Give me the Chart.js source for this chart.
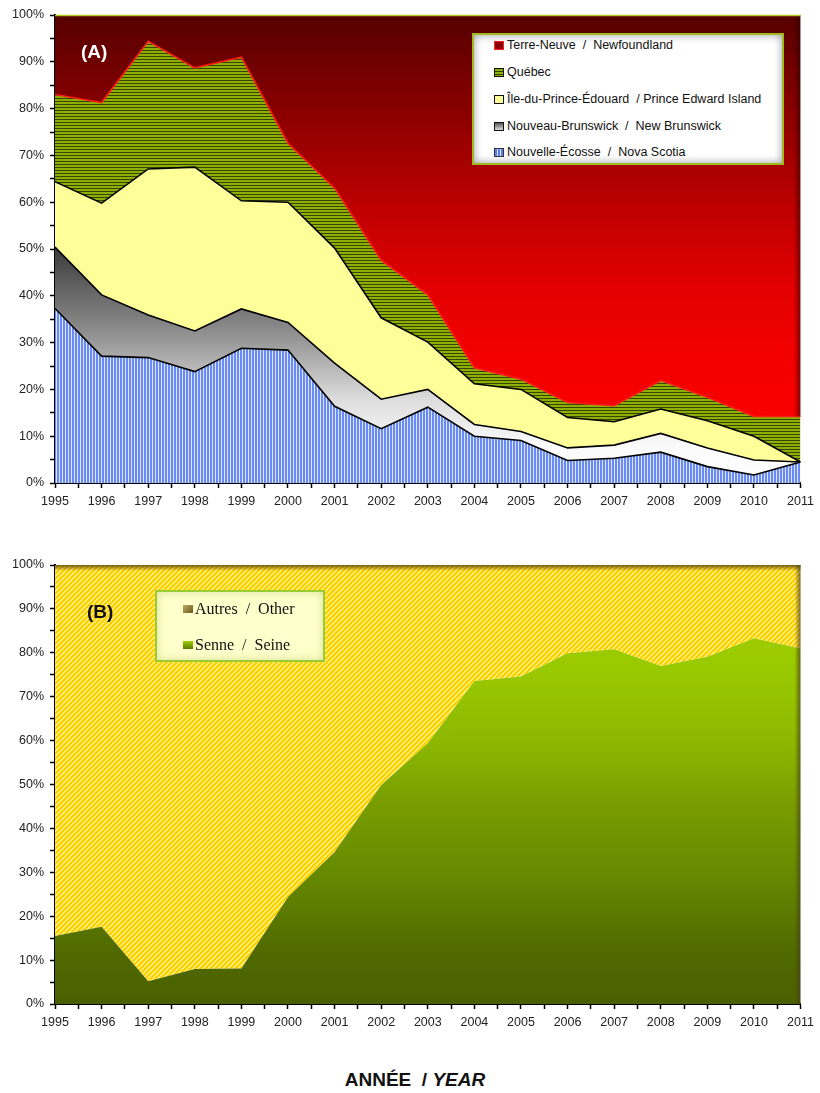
<!DOCTYPE html>
<html lang="fr">
<head>
<meta charset="UTF-8">
<title>Répartition des débarquements 1995-2011</title>
<script src="https://cdn.jsdelivr.net/npm/chart.js"></script>
<style>
  body { margin: 0; background: #fff; font-family: 'Liberation Sans', Arial, sans-serif; }
  .page { position: relative; width: 820px; height: 1093px; overflow: hidden; }
  #boxA { position: absolute; left: 0; top: 0; width: 820px; height: 510px; }
  #boxB { position: absolute; left: 0; top: 550px; width: 820px; height: 480px; }
  .tag { position: absolute; font-weight: bold; font-size: 19px; line-height: 20px; }
  #tagA { left: 81px; top: 42px; color: #fff; }
  #tagB { left: 87px; top: 602px; color: #111; }

  #legA {
    position: absolute; left: 472px; top: 33px; width: 308px; height: 128px;
    border: 2px solid #9bbb1f; background: #fff;
    box-shadow: inset 0 0 9px rgba(0,0,0,0.4);
    font-size: 12.5px; color: #111;
  }
  #legA .row { position: absolute; left: 20px; height: 14px; line-height: 14px; white-space: pre; }
  #legA .sw { display: inline-block; width: 8px; height: 7px; border: 1px solid #111; margin-right: 3px; vertical-align: -1px; }

  #legB {
    position: absolute; left: 155px; top: 590px; width: 166px; height: 68px;
    border: 2px solid #99cc33; background: #ffffcc;
    box-shadow: inset 0 0 8px rgba(140,160,40,0.35);
    font-family: 'Liberation Serif', 'Times New Roman', serif; font-size: 16px; color: #111;
  }
  #legB .row { position: absolute; left: 26px; height: 18px; line-height: 18px; white-space: pre; }
  #legB .sw { display: inline-block; width: 10px; height: 8px; margin-right: 2px; vertical-align: 1px; }

  #xtitle { position: absolute; left: 0; width: 830px; top: 1069px; text-align: center; font-weight: bold; font-size: 19px; color: #111; white-space: pre; }
</style>
</head>
<body>
<div class="page">
  <div id="boxA"><canvas id="chartA"></canvas></div>
  <div id="boxB"><canvas id="chartB"></canvas></div>

  <div class="tag" id="tagA">(A)</div>
  <div class="tag" id="tagB">(B)</div>

  <div id="legA">
    <div class="row" style="top:3px"><span class="sw" style="background:#8a0000;border-color:#ff2020"></span>Terre-Neuve  /  Newfoundland</div>
    <div class="row" style="top:30px"><span class="sw" style="background:repeating-linear-gradient(180deg,#8fb000 0 2px,#35420a 2px 3px)"></span>Québec</div>
    <div class="row" style="top:57px"><span class="sw" style="background:#ffff99"></span>Île-du-Prince-Édouard  / Prince Edward Island</div>
    <div class="row" style="top:84px"><span class="sw" style="background:linear-gradient(180deg,#555,#ddd)"></span>Nouveau-Brunswick  /  New Brunswick</div>
    <div class="row" style="top:110px"><span class="sw" style="background:repeating-linear-gradient(90deg,#5a7ff0 0 2px,#d8e2ff 2px 3px);border-color:#334"></span>Nouvelle-Écosse  /  Nova Scotia</div>
  </div>

  <div id="legB">
    <div class="row" style="top:8px"><span class="sw" style="background:linear-gradient(135deg,#c0a860,#6a5a20)"></span>Autres  /  Other</div>
    <div class="row" style="top:44px"><span class="sw" style="background:linear-gradient(180deg,#9ed000,#5c7a00)"></span>Senne  /  Seine</div>
  </div>

  <div id="xtitle">ANNÉE  / <i>YEAR</i></div>
</div>

<script>
  // ---- data ----
  const years = [1995, 1996, 1997, 1998, 1999, 2000, 2001, 2002, 2003, 2004, 2005, 2006, 2007, 2008, 2009, 2010, 2011];

  // (A) share of landings by province, %
  const novaScotia   = [37.3, 27.1, 26.8, 23.8, 28.8, 28.4, 16.4, 11.6, 16.2, 10.0, 9.1, 4.8, 5.3, 6.6, 3.5, 1.7, 4.5];
  const newBrunswick = [13.1, 13.1, 9.1, 8.7, 8.4, 5.9, 9.2, 6.3, 3.8, 2.5, 1.9, 2.7, 2.8, 4.0, 4.0, 3.2, 0];
  const princeEdward = [14.0, 19.6, 31.2, 35.0, 23.1, 25.7, 24.6, 17.4, 10.1, 8.7, 9.0, 6.5, 5.0, 5.2, 5.8, 5.1, 0];
  const quebec       = [18.6, 21.5, 27.3, 21.2, 30.7, 12.6, 12.8, 12.3, 10.1, 3.4, 2.2, 3.2, 3.4, 6.1, 5.0, 4.2, 9.7];
  const newfoundland = [17.0, 18.7, 5.6, 11.3, 9.0, 27.4, 37.0, 52.4, 59.8, 75.4, 77.8, 82.8, 83.5, 78.1, 81.7, 85.8, 85.8];

  // (B) share by gear, %
  const seine = [15.5, 17.6, 5.2, 8.0, 8.1, 24.4, 34.6, 49.9, 59.4, 73.6, 74.6, 79.9, 80.8, 77.0, 79.1, 83.3, 81.0];
  const other = [84.5, 82.4, 94.8, 92.0, 91.9, 75.6, 65.4, 50.1, 40.6, 26.4, 25.4, 20.1, 19.2, 23.0, 20.9, 16.7, 19.0];

  const pctTicks = [0, 10, 20, 30, 40, 50, 60, 70, 80, 90, 100];

  // ---- fills ----
  function makePattern(w, h, painter) {
    const c = document.createElement('canvas');
    c.width = w; c.height = h;
    const g = c.getContext('2d');
    for (let x = 0; x < w; x++) {
      for (let y = 0; y < h; y++) {
        g.fillStyle = painter(x, y);
        g.fillRect(x, y, 1, 1);
      }
    }
    return document.createElement('canvas').getContext('2d').createPattern(c, 'repeat');
  }
  const blueStripes = makePattern(3, 1, (x) => x < 2 ? '#6a8cf2' : '#dbe4ff');
  const oliveStripes = makePattern(1, 3, (x, y) => y < 2 ? '#8eae00' : '#37440a');
  const yellowDiag = makePattern(5, 5, (x, y) => ((x + y) % 5) < 2 ? '#fff07c' : '#ffd000');

  // vertical gradient using value stops on the y scale
  function scaleGradient(stops) {
    let cache = null, key = '';
    return (ctx) => {
      const chart = ctx.chart;
      const area = chart.chartArea;
      if (!area) return stops[0][1];
      const k = area.top + '|' + area.bottom;
      if (cache && key === k) return cache;
      const g = chart.ctx.createLinearGradient(0, area.top, 0, area.bottom);
      const span = area.bottom - area.top;
      stops.forEach(([v, col]) => {
        const py = chart.scales.y.getPixelForValue(v);
        g.addColorStop(Math.min(1, Math.max(0, (py - area.top) / span)), col);
      });
      cache = g; key = k;
      return g;
    };
  }

  const redFill = scaleGradient([[100, '#560000'], [80, '#880000'], [60, '#bb0000'], [42, '#e20000'], [28, '#f30000'], [0, '#ff0000']]);
  const grayFill = scaleGradient([[100, '#222'], [52, '#333'], [33, '#8a8a8a'], [18, '#dcdcdc'], [8, '#fafafa'], [0, '#fff']]);
  const greenFill = scaleGradient([[100, '#a4d400'], [75, '#98c800'], [60, '#8cb800'], [45, '#789c00'], [30, '#668a00'], [12, '#506a00'], [0, '#4a6000']]);

  const xy = (vals) => vals.map((v, i) => ({ x: years[i], y: v }));

  // inner shading along plot-area edges
  const edgeShade = {
    id: 'edgeShade',
    afterDatasetsDraw(chart, args, opts) {
      const { ctx, chartArea: a } = chart;
      ctx.save();
      if (opts.rightTo) {
        const meta = chart.getDatasetMeta(opts.rightTo);
        const pts = meta.data;
        const yEnd = pts[pts.length - 1].y;
        const g = ctx.createLinearGradient(a.right - 7, 0, a.right, 0);
        g.addColorStop(0, 'rgba(40,0,0,0)');
        g.addColorStop(1, 'rgba(40,0,0,0.55)');
        ctx.fillStyle = g;
        ctx.fillRect(a.right - 7, a.top, 7, yEnd - a.top);
      }
      if (opts.topShadow) {
        const g = ctx.createLinearGradient(0, a.top, 0, a.top + 6);
        g.addColorStop(0, 'rgba(70,50,0,0.75)');
        g.addColorStop(1, 'rgba(70,50,0,0)');
        ctx.fillStyle = g;
        ctx.fillRect(a.left, a.top, a.right - a.left, 6);
        const g2 = ctx.createLinearGradient(a.right - 6, 0, a.right, 0);
        g2.addColorStop(0, 'rgba(70,60,20,0)');
        g2.addColorStop(1, 'rgba(70,60,20,0.7)');
        ctx.fillStyle = g2;
        ctx.fillRect(a.right - 6, a.top, 6, a.bottom - a.top);
      }
      if (opts.topLine) {
        ctx.strokeStyle = opts.topLine;
        ctx.lineWidth = 1.5;
        ctx.beginPath();
        ctx.moveTo(a.left, a.top + 0.5);
        ctx.lineTo(a.right, a.top + 0.5);
        ctx.stroke();
      }
      ctx.restore();
    }
  };

  function axes(xHeight) {
    const font = { family: "'Liberation Sans', Arial, sans-serif", size: 12.5 };
    return {
      x: {
        type: 'linear', min: years[0], max: years[years.length - 1],
        afterFit: (s) => { s.height = xHeight; },
        border: { color: '#000', width: 2 },
        grid: { drawOnChartArea: false, drawTicks: true, tickLength: 5, tickColor: '#000', tickWidth: 1.5 },
        ticks: {
          stepSize: 0.5, autoSkip: false, maxRotation: 0, padding: 6, color: '#222', font,
          callback: (v) => Number.isInteger(v) ? String(v) : ''
        }
      },
      y: {
        stacked: true, min: 0, max: 100,
        afterFit: (s) => { s.width = 55; },
        border: { color: '#000', width: 2 },
        grid: { drawOnChartArea: false, drawTicks: true, tickLength: 5, tickColor: '#000', tickWidth: 1.5 },
        ticks: {
          stepSize: 5, maxTicksLimit: 100, autoSkip: false, padding: 6, color: '#222', font,
          callback: (v) => pctTicks.includes(v) ? v + '%' : ''
        }
      }
    };
  }

  const common = {
    responsive: true,
    maintainAspectRatio: false,
    animation: false,
    events: [],
    elements: { point: { radius: 0 }, line: { tension: 0 } },
    plugins: { legend: { display: false }, tooltip: { enabled: false } }
  };

  new Chart(document.getElementById('chartA'), {
    type: 'line',
    data: {
      datasets: [
        { label: 'Nouvelle-Écosse / Nova Scotia', data: xy(novaScotia), fill: 'origin', backgroundColor: blueStripes, borderColor: '#000', borderWidth: 1.6 },
        { label: 'Nouveau-Brunswick / New Brunswick', data: xy(newBrunswick), fill: '-1', backgroundColor: grayFill, borderColor: '#000', borderWidth: 1.6 },
        { label: 'Île-du-Prince-Édouard / Prince Edward Island', data: xy(princeEdward), fill: '-1', backgroundColor: '#ffff99', borderColor: '#000', borderWidth: 1.6 },
        { label: 'Québec', data: xy(quebec), fill: '-1', backgroundColor: oliveStripes, borderColor: '#ff1a1a', borderWidth: 1.6 },
        { label: 'Terre-Neuve / Newfoundland', data: xy(newfoundland), fill: '-1', backgroundColor: redFill, borderColor: 'rgba(0,0,0,0)', borderWidth: 0 }
      ]
    },
    options: Object.assign({}, common, {
      layout: { padding: { left: 0, right: 19, top: 15, bottom: 0 } },
      scales: axes(27),
      plugins: Object.assign({}, common.plugins, { edgeShade: { rightTo: 3, topLine: '#b4c81e' } })
    }),
    plugins: [edgeShade]
  });

  new Chart(document.getElementById('chartB'), {
    type: 'line',
    data: {
      datasets: [
        { label: 'Senne / Seine', data: xy(seine), fill: 'origin', backgroundColor: greenFill, borderColor: 'rgba(0,0,0,0)', borderWidth: 0 },
        { label: 'Autres / Other', data: xy(other), fill: '-1', backgroundColor: yellowDiag, borderColor: 'rgba(0,0,0,0)', borderWidth: 0 }
      ]
    },
    options: Object.assign({}, common, {
      layout: { padding: { left: 0, right: 19, top: 15, bottom: 0 } },
      scales: axes(26),
      plugins: Object.assign({}, common.plugins, { edgeShade: { topShadow: true } })
    }),
    plugins: [edgeShade]
  });
</script>
</body>
</html>
